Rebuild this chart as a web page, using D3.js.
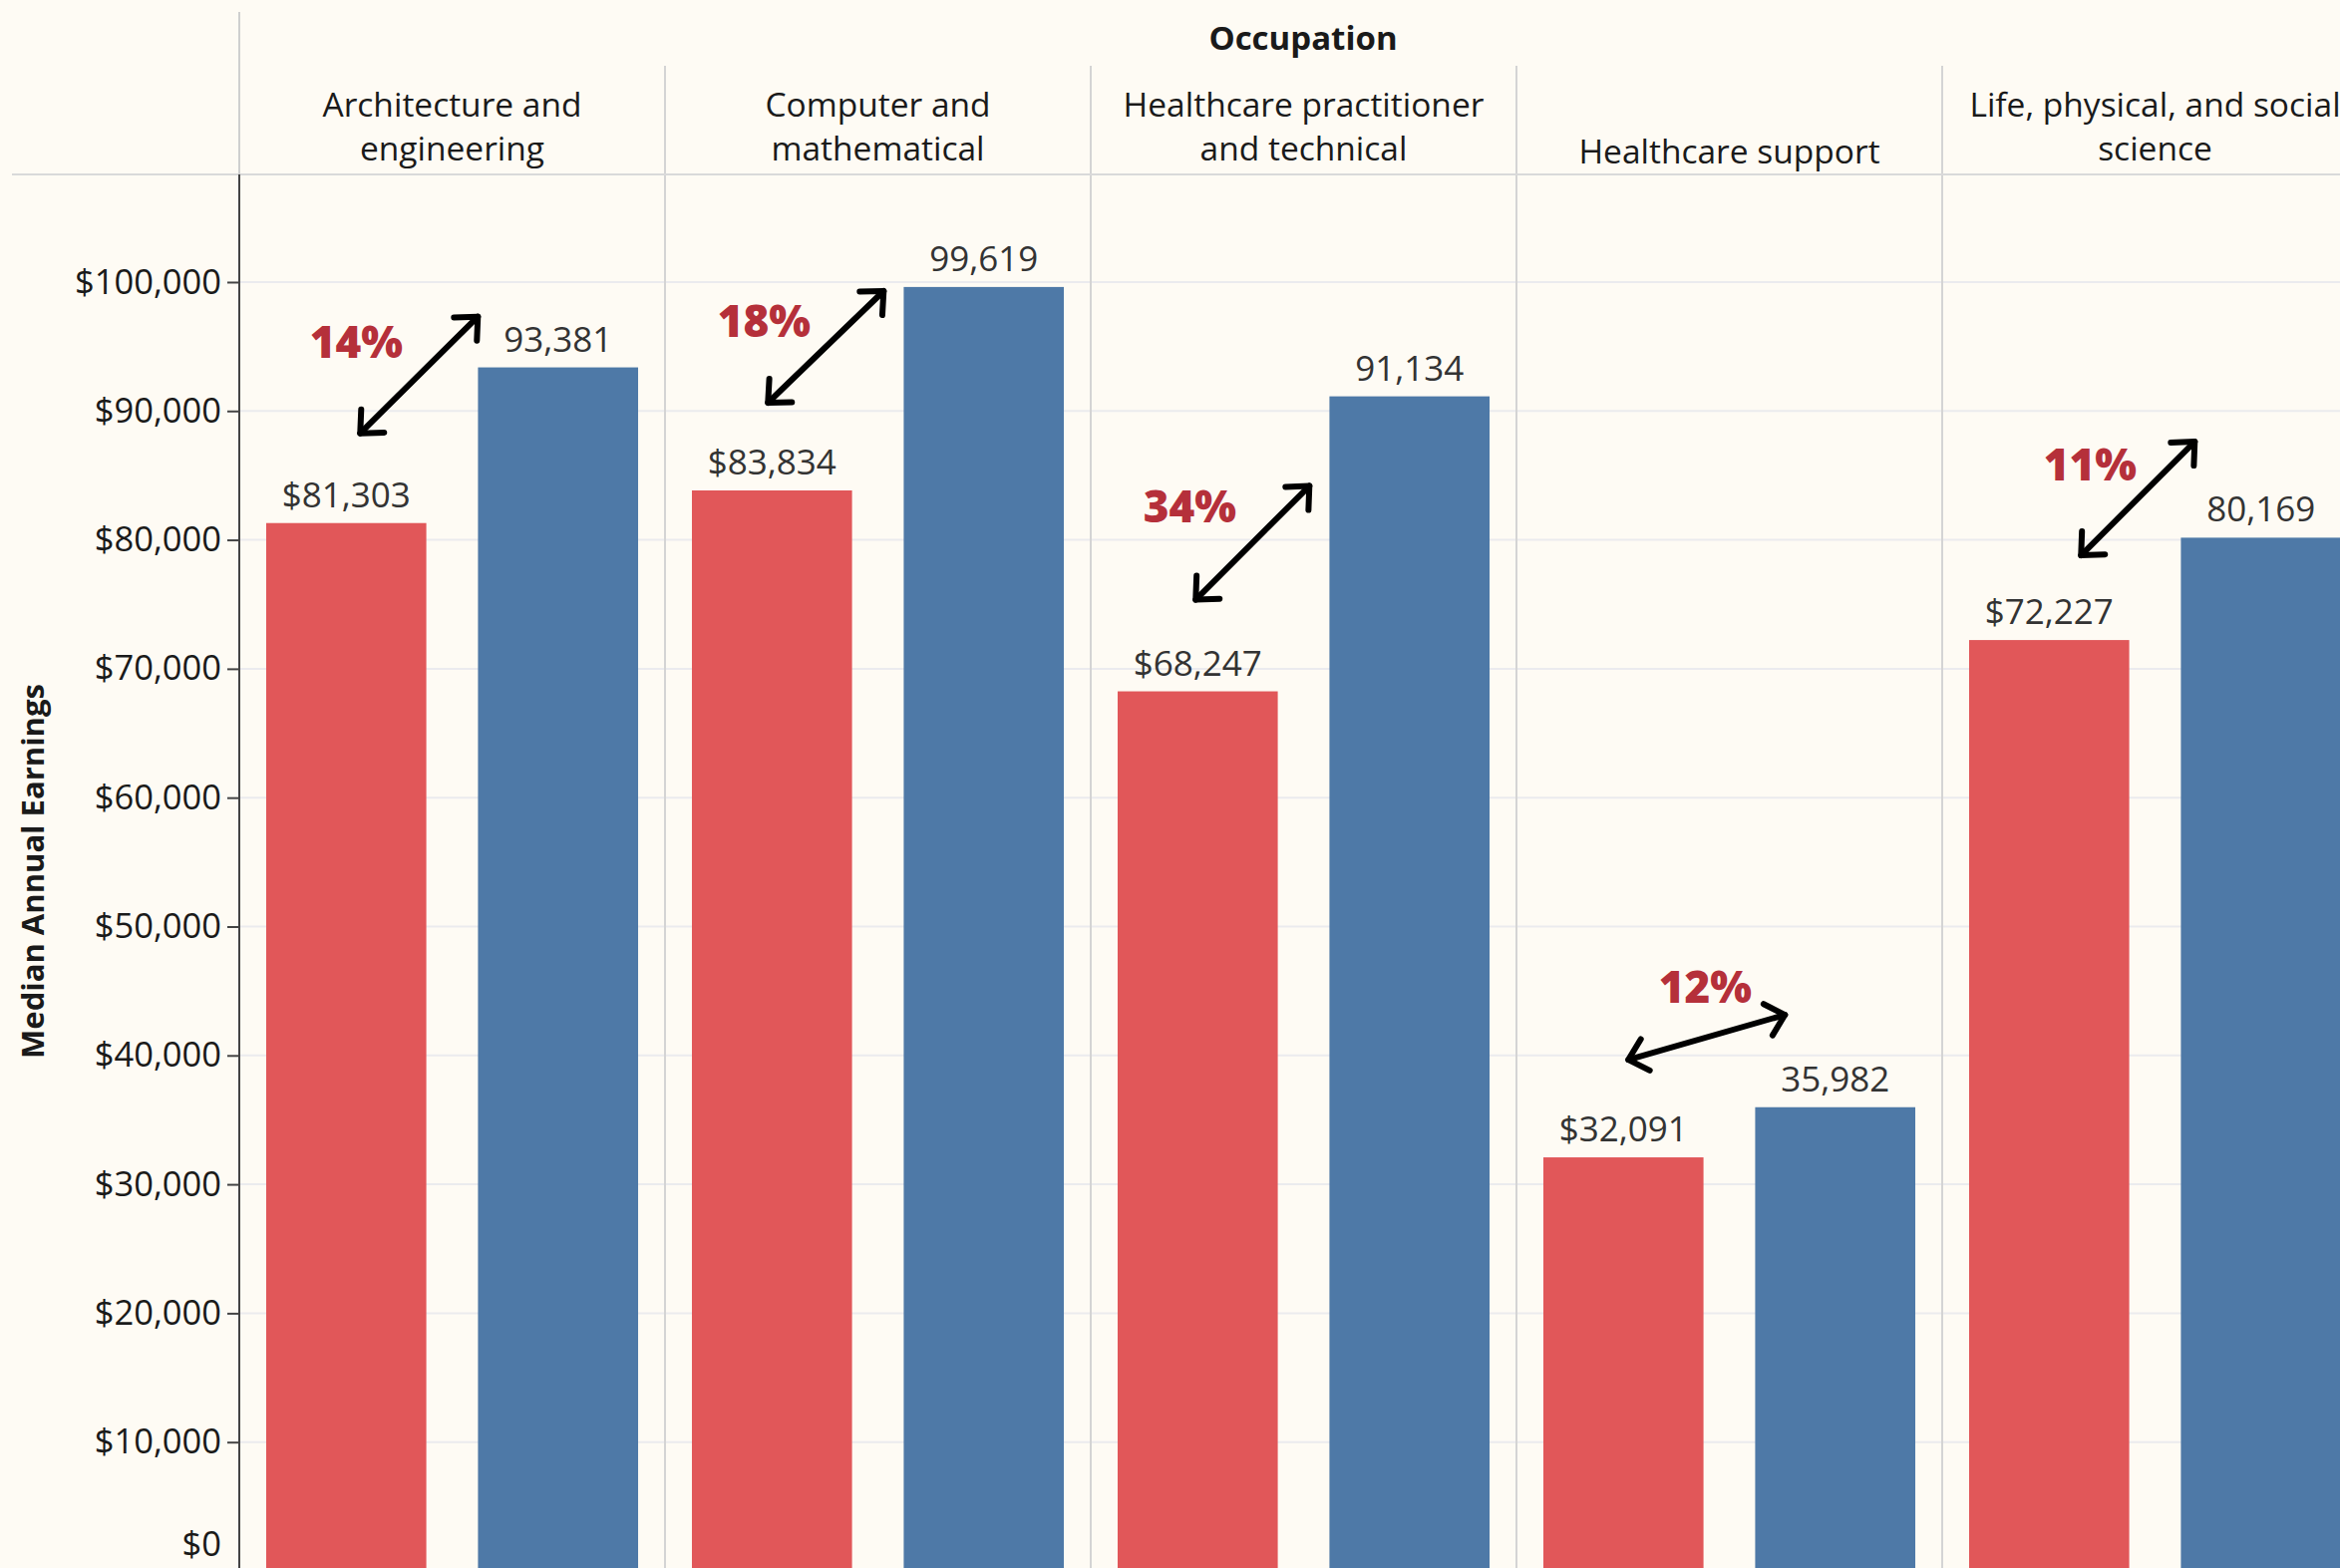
<!DOCTYPE html>
<html>
<head>
<meta charset="utf-8">
<script src="https://cdn.jsdelivr.net/npm/d3@7"></script>
<style>
  html, body { margin: 0; padding: 0; background: #fefbf4; }
  svg { display: block; font-family: 'Open Sans', 'Noto Sans', sans-serif; }
</style>
</head>
<body>
<svg width="2347" height="1573"></svg>
<script>
const svg = d3.select('svg');
const width = +svg.attr('width');
const height = +svg.attr('height');

// data
const categories = [
  'Architecture and engineering',
  'Computer and mathematical',
  'Healthcare practitioner and technical',
  'Healthcare support',
  'Life, physical, and social science'
];
const headerLines = [
  ['Architecture and', 'engineering'],
  ['Computer and', 'mathematical'],
  ['Healthcare practitioner', 'and technical'],
  ['Healthcare support'],
  ['Life, physical, and social', 'science']
];
const women = [81303, 83834, 68247, 32091, 72227];
const men = [93381, 99619, 91134, 35982, 80169];
const gapLabels = ['14%', '18%', '34%', '12%', '11%'];
const yTicks = [0, 10000, 20000, 30000, 40000, 50000, 60000, 70000, 80000, 90000, 100000];

// layout of the hand drawn arrows (relative to top centre of the women's bar)
const noteLayout = [
  { sx: 14, sy: -90, dx: 118, dy: -117, lx: -4, ly: -92 },
  { sx: -4, sy: -88, dx: 116, dy: -112, lx: -4, ly: -82 },
  { sx: -2, sy: -92, dx: 114, dy: -114, lx: -6, ly: -93 },
  { sx: 5, sy: -98, dx: 157, dy: -45, lx: 77, ly: -73 },
  { sx: 32, sy: -85, dx: 114, dy: -114, lx: 9, ly: -91 }
];

const red = '#e15759';
const blue = '#4e79a7';

const axisX = 240;
const headerBottom = 175;
const panelW = 427;

svg.append('rect').attr('width', width).attr('height', height).attr('fill', '#fefbf4');

const x = d3.scaleBand()
  .domain(categories)
  .range([axisX, axisX + panelW * categories.length]);

const inner = d3.scaleBand()
  .domain(['women', 'men'])
  .range([0, x.bandwidth()])
  .paddingInner(0.244)
  .paddingOuter(0.127);

const y = d3.scaleLinear()
  .domain([0, 108350])
  .range([1576, headerBottom]);

// gridlines
svg.append('g')
  .selectAll('line')
  .data(yTicks.filter(d => d > 0))
  .join('line')
    .attr('x1', axisX).attr('x2', width)
    .attr('y1', d => y(d)).attr('y2', d => y(d))
    .attr('stroke', '#ebebee')
    .attr('stroke-width', 2);

// panel dividers
svg.append('g')
  .selectAll('line')
  .data(categories.slice(1))
  .join('line')
    .attr('x1', d => x(d)).attr('x2', d => x(d))
    .attr('y1', 66).attr('y2', height)
    .attr('stroke', '#d4d4d4')
    .attr('stroke-width', 2);

// header line
svg.append('line')
  .attr('x1', 12).attr('x2', width)
  .attr('y1', headerBottom).attr('y2', headerBottom)
  .attr('stroke', '#d9d9d9')
  .attr('stroke-width', 2);

svg.append('line')
  .attr('x1', axisX).attr('x2', axisX)
  .attr('y1', 12).attr('y2', headerBottom)
  .attr('stroke', '#cfcfcf')
  .attr('stroke-width', 2);

// bars
const panels = svg.append('g')
  .selectAll('g.panel')
  .data(categories.map((c, i) => ({ c, i, women: women[i], men: men[i] })))
  .join('g')
    .attr('class', 'panel')
    .attr('transform', d => `translate(${x(d.c)},0)`);

panels.append('rect')
  .attr('x', inner('women'))
  .attr('width', inner.bandwidth())
  .attr('y', d => y(d.women))
  .attr('height', d => y(0) - y(d.women))
  .attr('fill', red);

panels.append('rect')
  .attr('x', inner('men'))
  .attr('width', inner.bandwidth())
  .attr('y', d => y(d.men))
  .attr('height', d => y(0) - y(d.men))
  .attr('fill', blue);

const fmt = d3.format(',');

panels.append('text')
  .attr('x', inner('women') + inner.bandwidth() / 2)
  .attr('y', d => y(d.women) - 16)
  .attr('text-anchor', 'middle')
  .attr('font-size', 35)
  .attr('fill', '#333')
  .text(d => '$' + fmt(d.women));

panels.append('text')
  .attr('x', inner('men') + inner.bandwidth() / 2)
  .attr('y', d => y(d.men) - 16)
  .attr('text-anchor', 'middle')
  .attr('font-size', 35)
  .attr('fill', '#333')
  .text(d => fmt(d.men));

// arrows + percentage notes
const line = d3.line();
const arrowPaths = (x1, y1, x2, y2) => {
  const ang = Math.atan2(y2 - y1, x2 - x1);
  const head = 24, spread = Math.PI / 4.2;
  const chevron = (px, py, a) => [
    [px + head * Math.cos(a + spread), py + head * Math.sin(a + spread)],
    [px, py],
    [px + head * Math.cos(a - spread), py + head * Math.sin(a - spread)]
  ];
  return [
    line([[x1, y1], [x2, y2]]),
    line(chevron(x1, y1, ang)),
    line(chevron(x2, y2, ang + Math.PI))
  ];
};

panels.each(function(d) {
  const g = d3.select(this);
  const L = noteLayout[d.i];
  const cx = inner('women') + inner.bandwidth() / 2;
  const sx = cx + L.sx;
  const sy = y(d.women) + L.sy;
  g.selectAll('path.arrow')
    .data(arrowPaths(sx, sy, sx + L.dx, sy + L.dy))
    .join('path')
      .attr('class', 'arrow')
      .attr('d', p => p)
      .attr('fill', 'none')
      .attr('stroke', '#000')
      .attr('stroke-width', 6)
      .attr('stroke-linecap', 'round')
      .attr('stroke-linejoin', 'round');
  g.append('text')
    .attr('x', sx + L.lx)
    .attr('y', sy + L.ly)
    .attr('dy', '0.36em')
    .attr('text-anchor', 'middle')
    .attr('font-size', 44)
    .attr('font-weight', 800)
    .attr('fill', '#b5303a')
    .text(gapLabels[d.i]);
});

// column headers
panels.each(function(d) {
  const lines = headerLines[d.i];
  const t = d3.select(this).append('text')
    .attr('text-anchor', 'middle')
    .attr('font-size', 33.5)
    .attr('fill', '#1a1a1a');
  lines.forEach((s, k) => {
    t.append('tspan')
      .attr('x', x.bandwidth() / 2)
      .attr('y', (lines.length === 1 ? 164 : 161) - (lines.length - 1 - k) * 44)
      .text(s);
  });
});

svg.append('text')
  .attr('x', 1307)
  .attr('y', 50)
  .attr('text-anchor', 'middle')
  .attr('font-size', 33)
  .attr('font-weight', 700)
  .attr('fill', '#1a1a1a')
  .text('Occupation');

// y axis
const yAxis = d3.axisLeft(y)
  .tickValues(yTicks)
  .tickSize(12)
  .tickPadding(6)
  .tickFormat(d => '$' + fmt(d));

const axisG = svg.append('g')
  .attr('transform', `translate(${axisX},0)`)
  .call(yAxis);

axisG.select('.domain')
  .attr('d', `M0,${headerBottom}V${height}`)
  .attr('stroke', '#444')
  .attr('stroke-width', 2);
axisG.selectAll('.tick line').attr('stroke', '#444').attr('stroke-width', 2);
axisG.selectAll('.tick text')
  .attr('font-size', 34.5)
  .attr('font-family', "'Open Sans', sans-serif")
  .attr('fill', '#1a1a1a');
// keep the $0 label inside the picture
axisG.selectAll('.tick text').filter(d => d === 0).attr('y', -27);

svg.append('text')
  .attr('transform', `translate(33, ${(headerBottom + height) / 2}) rotate(-90)`)
  .attr('dy', '0.35em')
  .attr('text-anchor', 'middle')
  .attr('font-size', 31)
  .attr('font-weight', 700)
  .attr('fill', '#1a1a1a')
  .text('Median Annual Earnings');
</script>
</body>
</html>
